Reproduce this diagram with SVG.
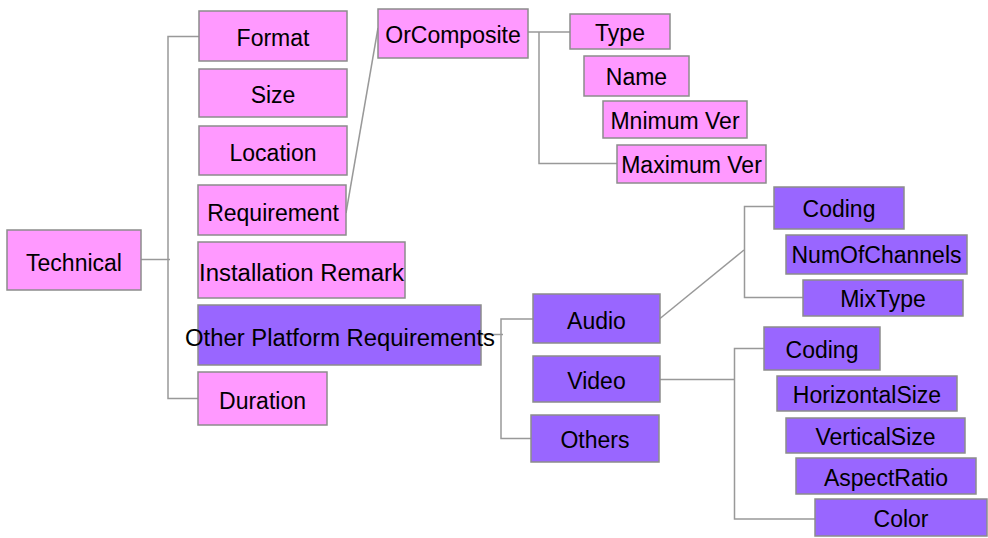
<svg xmlns="http://www.w3.org/2000/svg" width="988" height="538" viewBox="0 0 988 538">
<style>
rect{stroke:#8c8c8c;stroke-width:1.5}
.p rect{fill:#ff99ff}
.v rect{fill:#9966ff}
text{font-family:"Liberation Sans",Arial,sans-serif;font-size:23px;fill:#000;text-anchor:middle}
#connectors{fill:none;stroke:#999;stroke-width:1.5}
</style>
<rect x="0" y="0" width="988" height="538" style="fill:#fff;stroke:none"/>
<g id="connectors">
<polyline points="141,259.5 170,259.5"/>
<polyline points="199,36.5 168,36.5 168,398.5 198,398.5"/>
<line x1="346" y1="213" x2="378" y2="28"/>
<polyline points="528,32 570,32"/>
<polyline points="539,32 539,163.5 617,163.5"/>
<polyline points="481,334.5 503,334.5"/>
<polyline points="533,319 501,319 501,438.5 531,438.5"/>
<line x1="660" y1="318.5" x2="744" y2="250"/>
<polyline points="774,206.5 744.5,206.5 744.5,297.5 803,297.5"/>
<polyline points="660,379.5 734.5,379.5"/>
<polyline points="764,348.5 734.5,348.5 734.5,519 815,519"/>
</g>
<g id="technical" class="p"><rect x="7" y="230" width="134" height="60"/><text x="74" y="270.5">Technical</text></g>
<g id="format" class="p"><rect x="199" y="11" width="148" height="50"/><text x="273" y="46">Format</text></g>
<g id="size" class="p"><rect x="199" y="69" width="148" height="48"/><text x="273" y="102.5">Size</text></g>
<g id="location" class="p"><rect x="199" y="126" width="148" height="49"/><text x="273" y="160.5">Location</text></g>
<g id="requirement" class="p"><rect x="198" y="185" width="148" height="50"/><text x="273" y="220.5">Requirement</text></g>
<g id="installation-remark" class="p"><rect x="198" y="242" width="207" height="56"/><text x="301.5" y="280.5" textLength="205" lengthAdjust="spacingAndGlyphs">Installation Remark</text></g>
<g id="other-platform-requirements" class="v"><rect x="198" y="305" width="283" height="60"/><text x="340" y="345.5" textLength="310" lengthAdjust="spacingAndGlyphs">Other Platform Requirements</text></g>
<g id="duration" class="p"><rect x="198" y="372" width="129" height="53"/><text x="262.5" y="409">Duration</text></g>
<g id="orcomposite" class="p"><rect x="378" y="9" width="150" height="49"/><text x="453" y="43">OrComposite</text></g>
<g id="type" class="p"><rect x="570" y="14" width="100" height="35"/><text x="620" y="41">Type</text></g>
<g id="name" class="p"><rect x="584" y="56" width="105" height="40"/><text x="636.5" y="85">Name</text></g>
<g id="minimum-ver" class="p"><rect x="603" y="101" width="144" height="37"/><text x="675" y="129">Mnimum Ver</text></g>
<g id="maximum-ver" class="p"><rect x="617" y="145" width="149" height="38"/><text x="691.5" y="173">Maximum Ver</text></g>
<g id="audio" class="v"><rect x="533" y="294" width="127" height="49"/><text x="596.5" y="328.5">Audio</text></g>
<g id="video" class="v"><rect x="533" y="356" width="127" height="46"/><text x="596.5" y="389">Video</text></g>
<g id="others" class="v"><rect x="531" y="415" width="128" height="47"/><text x="595" y="448">Others</text></g>
<g id="audio-coding" class="v"><rect x="774" y="187" width="130" height="42"/><text x="839" y="217">Coding</text></g>
<g id="numofchannels" class="v"><rect x="786" y="235" width="181" height="39"/><text x="876.5" y="263">NumOfChannels</text></g>
<g id="mixtype" class="v"><rect x="803" y="280" width="160" height="36"/><text x="883" y="307">MixType</text></g>
<g id="video-coding" class="v"><rect x="764" y="327" width="116" height="43"/><text x="822" y="357.5">Coding</text></g>
<g id="horizontalsize" class="v"><rect x="777" y="376" width="180" height="35"/><text x="867" y="403">HorizontalSize</text></g>
<g id="verticalsize" class="v"><rect x="786" y="418" width="179" height="35"/><text x="875.5" y="445">VerticalSize</text></g>
<g id="aspectratio" class="v"><rect x="796" y="458" width="180" height="36"/><text x="886" y="486">AspectRatio</text></g>
<g id="color" class="v"><rect x="815" y="499" width="172" height="37"/><text x="901" y="527">Color</text></g>
</svg>
